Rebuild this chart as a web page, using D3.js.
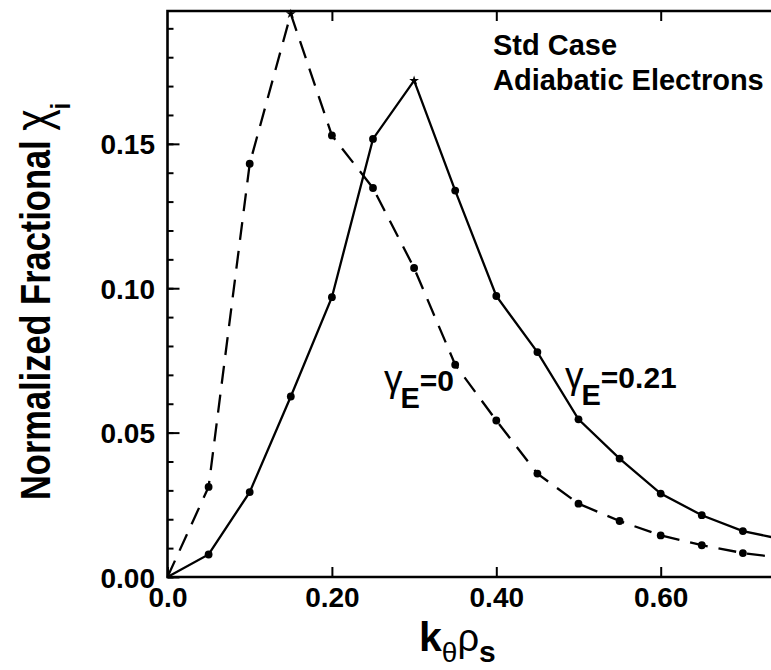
<!DOCTYPE html>
<html>
<head>
<meta charset="utf-8">
<script src="https://cdn.jsdelivr.net/npm/d3@7"></script>
<style>
  body { margin: 0; background: #fff; }
  svg { display: block; }
  text { font-family: "Liberation Sans", Arial, sans-serif; fill: #000; }
</style>
</head>
<body>
<svg width="771" height="670"></svg>
<script>
// k_theta rho_s sample points
var kRho = [0, 0.05, 0.10, 0.15, 0.20, 0.25, 0.30, 0.35, 0.40, 0.45, 0.50, 0.55, 0.60, 0.65, 0.70, 0.75];
// gamma_E = 0 (dashed)
var chiGamma0 = [0, 0.0312, 0.1431, 0.1950, 0.1529, 0.1347, 0.1070, 0.0735, 0.0542, 0.0358, 0.0254, 0.0194, 0.0144, 0.0110, 0.0083, 0.0065];
// gamma_E = 0.21 (solid)
var chiGamma021 = [0, 0.0078, 0.0294, 0.0625, 0.0969, 0.1517, 0.1719, 0.1338, 0.0973, 0.0779, 0.0546, 0.0410, 0.0289, 0.0214, 0.0159, 0.0129];

var yMajor = [0, 0.05, 0.10, 0.15];
var yMinor = d3.range(0, 0.196, 0.01);
var xMajor = [0, 0.2, 0.4, 0.6];
var xLabels = ["0.0", "0.20", "0.40", "0.60"];

var svg = d3.select("svg");

var x = d3.scaleLinear().domain([0, 0.75]).range([167.5, 167.5 + 0.75 * 822]),
    y = d3.scaleLinear().domain([0, 0.196]).range([577, 11]);

var series = [
    { id: "g0", dash: "18,11", values: kRho.map(function (k, i) { return { k: k, chi: chiGamma0[i] }; }) },
    { id: "g021", dash: null, values: kRho.map(function (k, i) { return { k: k, chi: chiGamma021[i] }; }) }
];

var line = d3.line()
    .x(function (d) { return x(d.k); })
    .y(function (d) { return y(d.chi); });

// curves
var lines = svg.append("g");
series.forEach(function (s) {
    lines.append("path")
        .attr("d", line(s.values))
        .attr("fill", "none")
        .attr("stroke", "#000")
        .attr("stroke-width", 2.3)
        .attr("stroke-dasharray", s.dash);

    var peak = d3.maxIndex(s.values, function (d) { return d.chi; });
    lines.selectAll(null)
        .data(s.values.filter(function (d, i) { return d.k > 0 && i !== peak; }))
        .enter().append("circle")
        .attr("cx", function (d) { return x(d.k); })
        .attr("cy", function (d) { return y(d.chi); })
        .attr("r", 3.9)
        .attr("fill", "#000");

    lines.append("path")
        .attr("d", d3.symbol().type(d3.symbolStar).size(30)())
        .attr("transform", "translate(" + x(s.values[peak].k) + "," + y(s.values[peak].chi) + ")")
        .attr("fill", "#000");
});

// y axis: major + minor inward ticks
var yAxis = svg.append("g")
    .attr("transform", "translate(" + x(0) + ",0)")
    .call(d3.axisLeft(y).tickValues(yMajor).tickSize(-12).tickPadding(12.5)
        .tickFormat(d3.format(".2f")));
svg.append("g")
    .attr("transform", "translate(" + x(0) + ",0)")
    .call(d3.axisLeft(y).tickValues(yMinor).tickSize(-6).tickFormat(""));

var xAxis = svg.append("g")
    .attr("transform", "translate(0," + y(0) + ")")
    .call(d3.axisBottom(x).tickValues(xMajor).tickSize(-10).tickPadding(10)
        .tickFormat(function (d, i) { return xLabels[i]; }));
svg.append("g")
    .attr("transform", "translate(0," + y(0.196) + ")")
    .call(d3.axisTop(x).tickValues(xMajor.slice(1)).tickSize(-10).tickFormat(""));

svg.selectAll(".domain").remove();
svg.selectAll(".tick line").attr("stroke", "#000").attr("stroke-width", 2);
svg.selectAll(".tick text")
    .attr("fill", "#000")
    .style("font-family", "'Liberation Sans', Arial, sans-serif")
    .style("font-size", "28px")
    .style("font-weight", "bold");
yAxis.selectAll(".tick text").attr("dy", "0.36em");

// frame: left, bottom, top
svg.append("path")
    .attr("d", "M" + x(0.75) + "," + y(0.196) + "H" + x(0) + "V" + y(0) + "H" + x(0.75))
    .attr("fill", "none")
    .attr("stroke", "#000")
    .attr("stroke-width", 2.6);

// annotations
svg.append("text").attr("x", 493).attr("y", 55)
    .style("font-size", "29px").style("font-weight", "bold").text("Std Case");
svg.append("text").attr("x", 493).attr("y", 90)
    .style("font-size", "29px").style("font-weight", "bold").text("Adiabatic Electrons");

function gammaLabel(px, py, value) {
    var t = svg.append("text").attr("x", px).attr("y", py);
    t.append("tspan").style("font-size", "37px").text("γ");
    t.append("tspan").attr("dy", 17).attr("dx", -2).style("font-size", "29px").style("font-weight", "bold").text("E");
    t.append("tspan").attr("dy", -17).style("font-size", "30px").style("font-weight", "bold").text("=" + value);
}
gammaLabel(384, 391, "0");
gammaLabel(565, 388, "0.21");

// x label
var xl = svg.append("text").attr("x", 419).attr("y", 651);
xl.append("tspan").style("font-size", "41px").style("font-weight", "bold").text("k");
xl.append("tspan").attr("dy", 11).style("font-size", "28px").text("θ");
xl.append("tspan").attr("dy", -11).style("font-size", "38px").text("ρ");
xl.append("tspan").attr("dy", 11).style("font-size", "30px").style("font-weight", "bold").text("s");

// y label
var yl = svg.append("text")
    .attr("transform", "translate(50,500) rotate(-90) scale(0.82,1)");
yl.append("tspan").style("font-size", "42px").style("font-weight", "bold").text("Normalized Fractional ");
yl.append("tspan").style("font-size", "50px").text("χ");
yl.append("tspan").attr("dy", 20).style("font-size", "28px").style("font-weight", "bold").text("i");
</script>
</body>
</html>
